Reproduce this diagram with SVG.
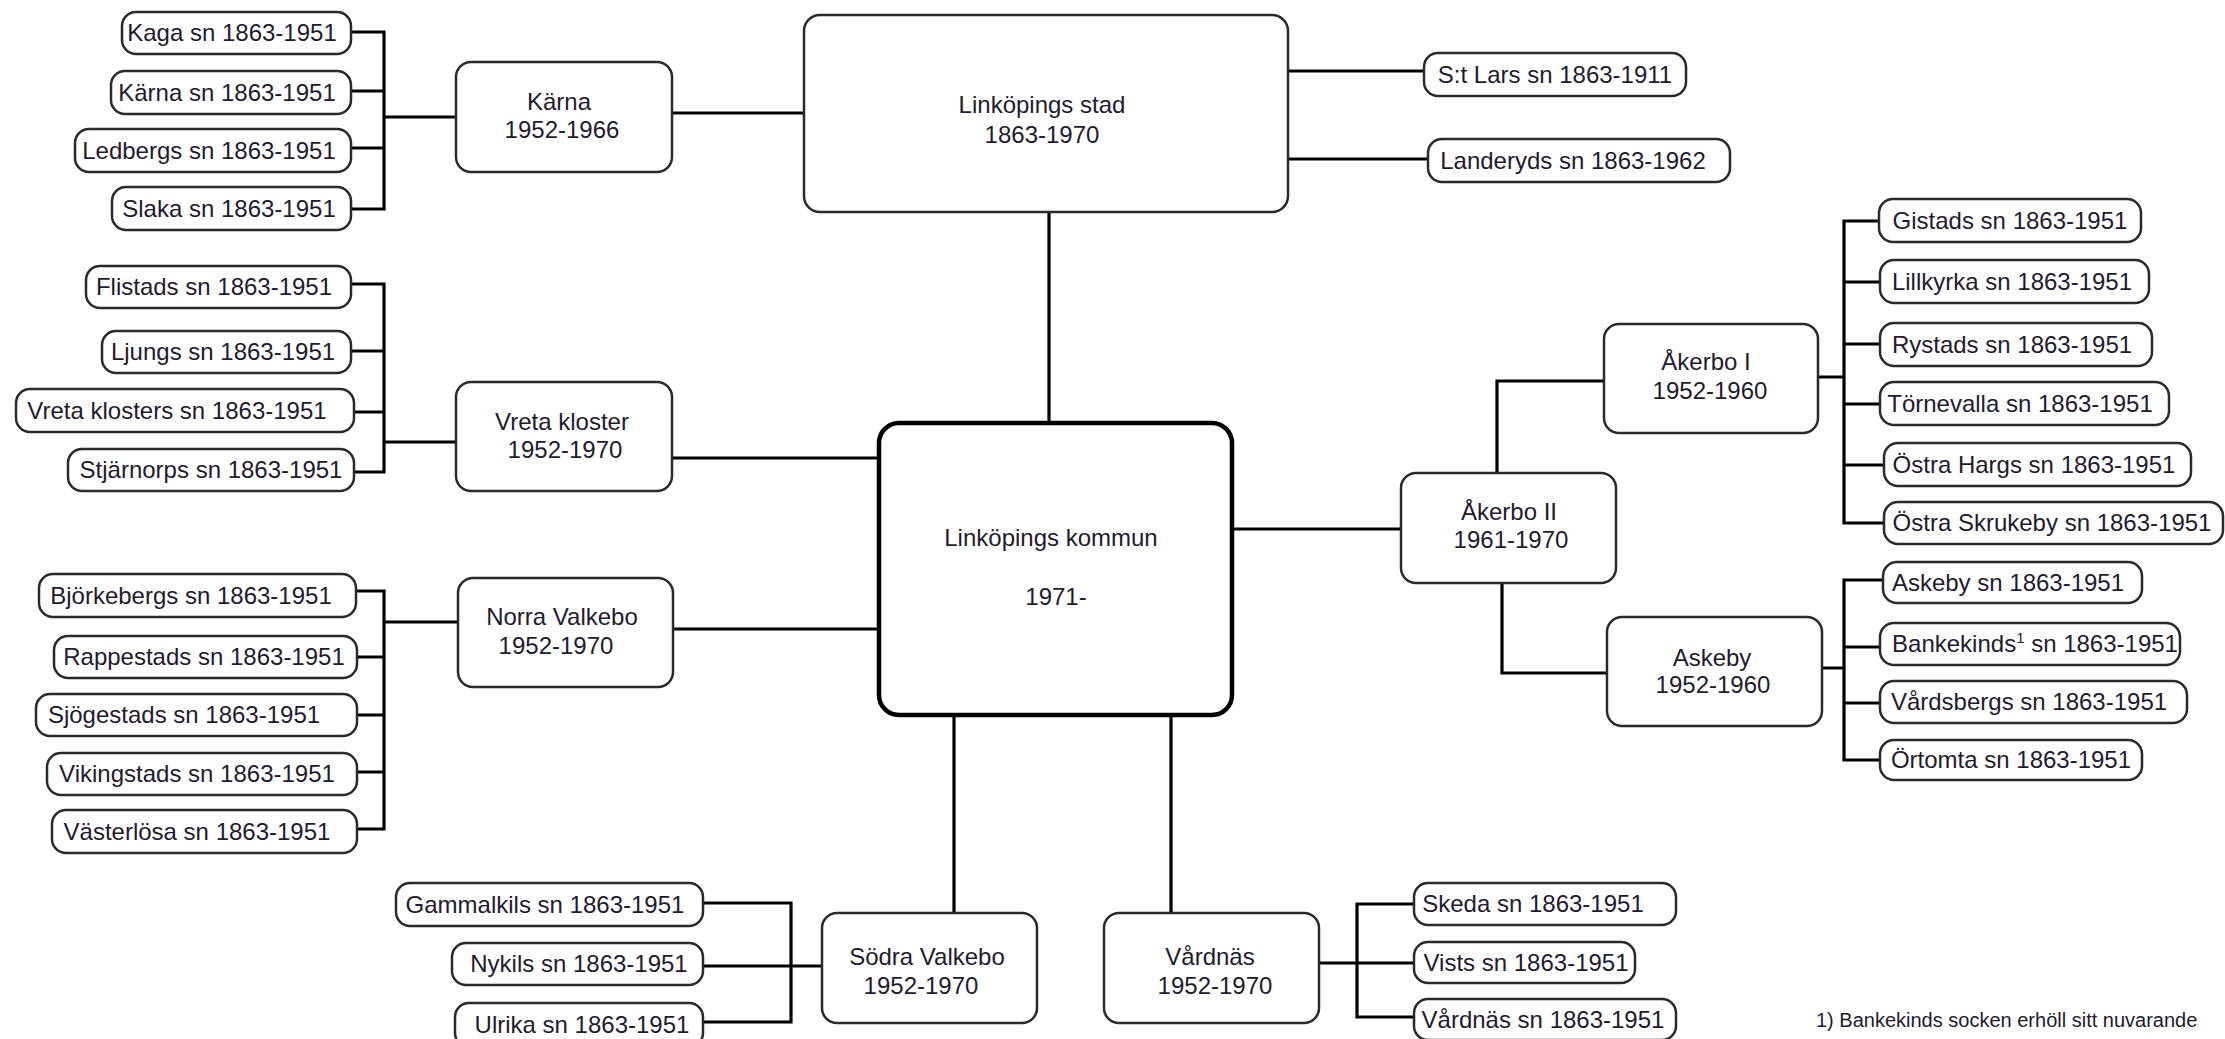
<svg xmlns="http://www.w3.org/2000/svg" width="2225" height="1039" viewBox="0 0 2225 1039">
<style>
.bg{fill:#ffffff}
.c{fill:#ffffff;stroke:#2a2a2a;stroke-width:2.5}
.p{fill:#ffffff;stroke:#2a2a2a;stroke-width:2.5}
.m{fill:#ffffff;stroke:#000000;stroke-width:4.5}
text{font-family:"Liberation Sans",Arial,sans-serif;font-size:24px;fill:#231a2e;text-anchor:middle}
.fn{font-size:20px;text-anchor:start}
.sup{font-size:15px}
#connectors path{fill:none;stroke:#000000;stroke-width:3.2;stroke-linejoin:miter;stroke-linecap:square}
</style>
<rect class="bg" x="0" y="0" width="2225" height="1039"/>
<g id="connectors">
<path d="M351,32 H384 V209 H351 M351,91 H384 M351,148 H384 M384,117 H456"/>
<path d="M672,113 H804"/>
<path d="M351,284 H384 V472 H354 M351,351 H384 M354,412 H384 M384,442 H456"/>
<path d="M672,458 H879"/>
<path d="M356,591 H384 V829 H357 M357,657 H384 M357,715 H384 M357,772 H384 M384,622 H458"/>
<path d="M673,629 H879"/>
<path d="M703,903 H791 V1022 H703 M703,966 H822"/>
<path d="M954,715 V913"/>
<path d="M1171,715 V913"/>
<path d="M1319,963 H1414 M1414,904 H1357 V1017 H1414"/>
<path d="M1288,71 H1424 M1288,159 H1428"/>
<path d="M1049,212 V423"/>
<path d="M1232,529 H1401"/>
<path d="M1497,473 V381 H1604"/>
<path d="M1818,377 H1844 M1879,221 H1844 V523 H1884 M1844,282 H1880 M1844,344 H1880 M1844,404 H1880 M1844,465 H1884"/>
<path d="M1502,583 V673 H1607"/>
<path d="M1822,668 H1844 M1883,580 H1844 V760 H1880 M1844,647 H1880 M1844,703 H1880"/>
</g>

<g id="kommun"><rect class="m" x="879" y="423" width="353" height="292" rx="20"/><text x="1051" y="546">Linköpings kommun</text><text x="1056" y="605">1971-</text></g>
<g id="stad"><rect class="p" x="804" y="15" width="484" height="197" rx="16"/><text x="1042" y="113">Linköpings stad</text><text x="1042" y="143">1863-1970</text></g>
<g id="stlars"><rect class="c" x="1424" y="53" width="262" height="43" rx="14"/><text x="1555" y="83">S:t Lars sn 1863-1911</text></g>
<g id="landeryd"><rect class="c" x="1428" y="139" width="302" height="43" rx="14"/><text x="1573" y="169">Landeryds sn 1863-1962</text></g>

<g id="karna"><rect class="p" x="456" y="62" width="216" height="110" rx="15"/><text x="559" y="110">Kärna</text><text x="562" y="138">1952-1966</text></g>
<g id="kaga"><rect class="c" x="122" y="12" width="229" height="42" rx="14"/><text x="232" y="41">Kaga sn 1863-1951</text></g>
<g id="karnasn"><rect class="c" x="111" y="71" width="240" height="43" rx="14"/><text x="227" y="101">Kärna sn 1863-1951</text></g>
<g id="ledberg"><rect class="c" x="75" y="129" width="276" height="43" rx="14"/><text x="209" y="159">Ledbergs sn 1863-1951</text></g>
<g id="slaka"><rect class="c" x="112" y="187" width="239" height="43" rx="14"/><text x="229" y="217">Slaka sn 1863-1951</text></g>

<g id="vreta"><rect class="p" x="456" y="382" width="216" height="109" rx="15"/><text x="562" y="430">Vreta kloster</text><text x="565" y="458">1952-1970</text></g>
<g id="flistad"><rect class="c" x="86" y="266" width="265" height="42" rx="14"/><text x="214" y="295">Flistads sn 1863-1951</text></g>
<g id="ljung"><rect class="c" x="102" y="331" width="249" height="42" rx="14"/><text x="223" y="360">Ljungs sn 1863-1951</text></g>
<g id="vretasn"><rect class="c" x="16" y="389" width="338" height="43" rx="14"/><text x="177" y="419">Vreta klosters sn 1863-1951</text></g>
<g id="stjarnorp"><rect class="c" x="68" y="449" width="286" height="42" rx="14"/><text x="211" y="478">Stjärnorps sn 1863-1951</text></g>

<g id="norra"><rect class="p" x="458" y="578" width="215" height="109" rx="15"/><text x="562" y="625">Norra Valkebo</text><text x="556" y="654">1952-1970</text></g>
<g id="bjorkeberg"><rect class="c" x="39" y="574" width="317" height="43" rx="14"/><text x="191" y="604">Björkebergs sn 1863-1951</text></g>
<g id="rappestad"><rect class="c" x="54" y="636" width="303" height="42" rx="14"/><text x="204" y="665">Rappestads sn 1863-1951</text></g>
<g id="sjogestad"><rect class="c" x="36" y="694" width="321" height="42" rx="14"/><text x="184" y="723">Sjögestads sn 1863-1951</text></g>
<g id="vikingstad"><rect class="c" x="47" y="753" width="310" height="42" rx="14"/><text x="197" y="782">Vikingstads sn 1863-1951</text></g>
<g id="vasterlosa"><rect class="c" x="52" y="810" width="305" height="43" rx="14"/><text x="197" y="840">Västerlösa sn 1863-1951</text></g>

<g id="sodra"><rect class="p" x="822" y="913" width="215" height="110" rx="15"/><text x="927" y="965">Södra Valkebo</text><text x="921" y="994">1952-1970</text></g>
<g id="gammalkil"><rect class="c" x="396" y="883" width="307" height="43" rx="14"/><text x="545" y="913">Gammalkils sn 1863-1951</text></g>
<g id="nykil"><rect class="c" x="452" y="943" width="251" height="42" rx="14"/><text x="579" y="972">Nykils sn 1863-1951</text></g>
<g id="ulrika"><rect class="c" x="455" y="1003" width="248" height="44" rx="14"/><text x="582" y="1033">Ulrika sn 1863-1951</text></g>

<g id="vardnas"><rect class="p" x="1104" y="913" width="215" height="110" rx="15"/><text x="1210" y="965">Vårdnäs</text><text x="1215" y="994">1952-1970</text></g>
<g id="skeda"><rect class="c" x="1414" y="883" width="262" height="42" rx="14"/><text x="1533" y="912">Skeda sn 1863-1951</text></g>
<g id="vist"><rect class="c" x="1414" y="942" width="221" height="41" rx="14"/><text x="1526" y="971">Vists sn 1863-1951</text></g>
<g id="vardnassn"><rect class="c" x="1414" y="999" width="262" height="41" rx="14"/><text x="1543" y="1028">Vårdnäs sn 1863-1951</text></g>

<g id="akerbo2"><rect class="p" x="1401" y="473" width="215" height="110" rx="15"/><text x="1509" y="520">Åkerbo II</text><text x="1511" y="548">1961-1970</text></g>
<g id="akerbo1"><rect class="p" x="1604" y="324" width="214" height="109" rx="15"/><text x="1706" y="370">Åkerbo I</text><text x="1710" y="399">1952-1960</text></g>
<g id="gistad"><rect class="c" x="1879" y="199" width="262" height="43" rx="14"/><text x="2010" y="229">Gistads sn 1863-1951</text></g>
<g id="lillkyrka"><rect class="c" x="1880" y="260" width="269" height="43" rx="14"/><text x="2012" y="290">Lillkyrka sn 1863-1951</text></g>
<g id="rystad"><rect class="c" x="1880" y="323" width="272" height="43" rx="14"/><text x="2012" y="353">Rystads sn 1863-1951</text></g>
<g id="tornevalla"><rect class="c" x="1880" y="382" width="289" height="43" rx="14"/><text x="2020" y="412">Törnevalla sn 1863-1951</text></g>
<g id="ostraharg"><rect class="c" x="1884" y="443" width="307" height="43" rx="14"/><text x="2034" y="473">Östra Hargs sn 1863-1951</text></g>
<g id="ostraskrukeby"><rect class="c" x="1884" y="502" width="339" height="42" rx="14"/><text x="2052" y="531">Östra Skrukeby sn 1863-1951</text></g>

<g id="askeby"><rect class="p" x="1607" y="617" width="215" height="109" rx="15"/><text x="1712" y="666">Askeby</text><text x="1713" y="693">1952-1960</text></g>
<g id="askebysn"><rect class="c" x="1883" y="562" width="259" height="41" rx="14"/><text x="2008" y="591">Askeby sn 1863-1951</text></g>
<g id="bankekind"><rect class="c" x="1880" y="623" width="300" height="42" rx="14"/><text x="2035" y="652">Bankekinds<tspan class="sup" dy="-9">1</tspan><tspan dy="9"> sn 1863-1951</tspan></text></g>
<g id="vardsberg"><rect class="c" x="1880" y="681" width="307" height="42" rx="14"/><text x="2029" y="710">Vårdsbergs sn 1863-1951</text></g>
<g id="ortomta"><rect class="c" x="1880" y="740" width="262" height="40" rx="14"/><text x="2011" y="768">Örtomta sn 1863-1951</text></g>

<text class="fn" x="1816" y="1027">1) Bankekinds socken erhöll sitt nuvarande</text>
</svg>
